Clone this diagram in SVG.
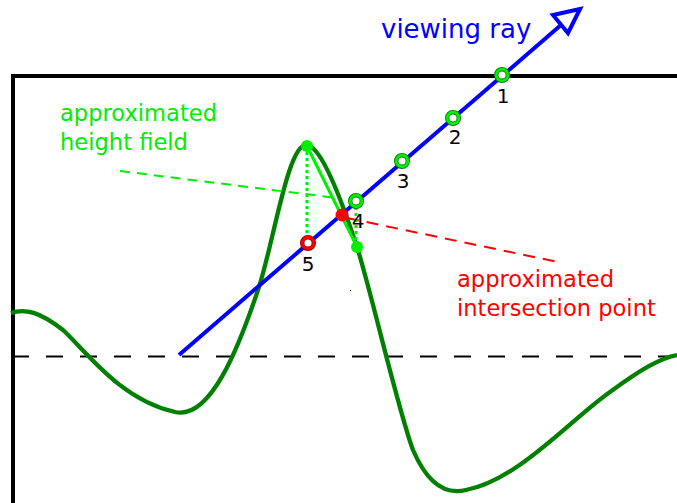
<svg xmlns="http://www.w3.org/2000/svg" width="677" height="503" viewBox="0 0 677 503">
<style>
.lbl{font-family:"DejaVu Sans",sans-serif;font-size:22.6px}
.num{font-family:"DejaVu Sans",sans-serif;font-size:20px;fill:#000;text-anchor:middle}
.gout{fill:#fff;stroke:#007a00;stroke-width:4.4}
.gin{fill:none;stroke:#00ee00;stroke-width:2.8}
.rout{fill:#fff;stroke:#8a0000;stroke-width:4.4}
.rin{fill:none;stroke:#ff0000;stroke-width:2.8}
.lg{stroke:#00ee00;stroke-width:3;fill:none}
</style>
<rect width="677" height="503" fill="#fff"/>
<g id="frame" fill="none" stroke="#000">
<path d="M13,503 V76 H677" stroke-width="4"/>
<line x1="12" y1="356.5" x2="677" y2="356.5" stroke-width="2" stroke-dasharray="17 17"/>
</g>
<g id="height-field">
<path d="M11,313 C25,308 40,312 63,330 C85,350 120,400 175,412 C210,420 238,350 259,287 C274,240 288,145 306,145 C318,145 335,180 357,247 C370,287 398,410 413,450 C428,485 446,495 466,490 C518,480 570,420 610,392 C640,370 660,358 677,355" fill="none" stroke="#008000" stroke-width="4.3"/>
</g>
<g id="connectors">
<line x1="120" y1="171" x2="337" y2="198" stroke="#00ee00" stroke-width="2" stroke-dasharray="10 7"/>
<line x1="347" y1="218" x2="558" y2="262" stroke="#ff0000" stroke-width="2" stroke-dasharray="12 8"/>
</g>
<g id="viewing-ray">
<line x1="179" y1="355" x2="561" y2="25" stroke="#0000ff" stroke-width="4"/>
<polygon points="580,9 553,15 568,33" fill="#fff" stroke="#0000ff" stroke-width="4"/>
<text class="lbl" x="381" y="38" fill="#0000ff" style="font-size:26px">viewing ray</text>
</g>
<g id="approximation">
<line class="lg" x1="307" y1="146" x2="307" y2="238" stroke-dasharray="3 3"/>
<line class="lg" x1="356" y1="207" x2="356" y2="247" stroke-dasharray="3 3"/>
<line class="lg" x1="307" y1="146" x2="357" y2="247"/>
<circle cx="307" cy="146" r="6" fill="#00ee00"/>
<circle cx="357" cy="247" r="6" fill="#00ee00"/>
</g>
<g id="sample-1"><circle class="gout" cx="502" cy="75" r="5.8"/><circle class="gin" cx="502" cy="75" r="5.8"/><text class="num" x="503" y="103">1</text></g>
<g id="sample-2"><circle class="gout" cx="453" cy="118" r="5.8"/><circle class="gin" cx="453" cy="118" r="5.8"/><text class="num" x="455" y="144">2</text></g>
<g id="sample-3"><circle class="gout" cx="402" cy="161" r="5.8"/><circle class="gin" cx="402" cy="161" r="5.8"/><text class="num" x="403" y="188">3</text></g>
<g id="sample-4"><circle class="gout" cx="356" cy="201" r="5.8"/><circle class="gin" cx="356" cy="201" r="5.8"/><text class="num" x="358" y="228">4</text></g>
<g id="sample-5"><circle class="rout" cx="308" cy="243" r="5.8"/><circle class="rin" cx="308" cy="243" r="5.8"/><text class="num" x="308" y="271">5</text></g>
<g id="intersection"><circle cx="342" cy="215" r="6.5" fill="#ff0000"/></g>
<g id="label-height-field">
<text class="lbl" fill="#00ee00"><tspan x="60" y="121">approximated</tspan><tspan x="60" y="150">height field</tspan></text>
</g>
<g id="label-intersection">
<text class="lbl" fill="#ff0000"><tspan x="457" y="287">approximated</tspan><tspan x="457" y="316">intersection point</tspan></text>
</g>
<rect x="350" y="290" width="1" height="1" fill="#000066"/>
</svg>
